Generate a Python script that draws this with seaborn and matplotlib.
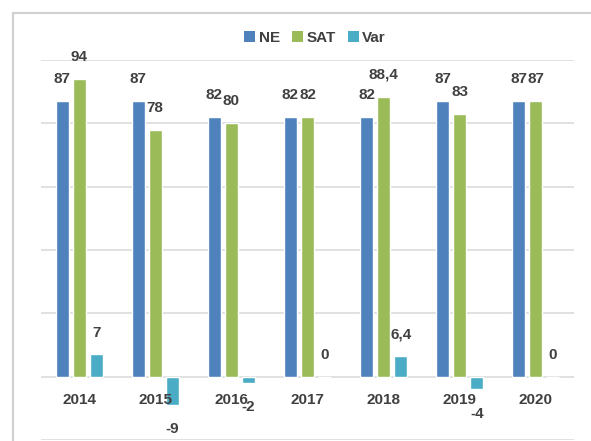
import matplotlib
matplotlib.use("Agg")
import matplotlib.pyplot as plt
from matplotlib.patches import Rectangle
import seaborn as sns
import pandas as pd

years = ["2014", "2015", "2016", "2017", "2018", "2019", "2020"]
ne = [87, 87, 82, 82, 82, 87, 87]
sat = [94, 78, 80, 82, 88.4, 83, 87]
var = [7, -9, -2, 0, 6.4, -4, 0]
series = ["NE", "SAT", "Var"]
colors = ["#4F81BD", "#9BBB59", "#4BACC6"]

sns.set_theme(style="white")
plt.rcParams["font.family"] = ["Liberation Sans", "DejaVu Sans"]
fsize = 11
text_color = "#404040"

df = pd.DataFrame({
    "year": years * 3,
    "value": ne + sat + var,
    "series": ["NE"] * 7 + ["SAT"] * 7 + ["Var"] * 7,
})

fig = plt.figure(figsize=(5.91, 4.41), dpi=100)
ax = fig.add_axes([41 / 591, 1 / 441, 533 / 591, 380 / 441])

sns.barplot(data=df, x="year", y="value", hue="series", order=years,
            hue_order=series, palette=colors, width=0.67, gap=0.24,
            saturation=1, legend=False, ax=ax)

ax.set_ylim(-20, 100)
ax.set_xlim(-0.5, len(years) - 0.5)
ax.set_yticks(range(-20, 101, 20))
ax.set_yticklabels([])
ax.tick_params(axis="y", length=0)
ax.grid(axis="y", color="#D9D9D9", linewidth=1.1)
ax.set_axisbelow(True)
for s in ax.spines.values():
    s.set_visible(False)
ax.set_xlabel("")
ax.set_ylabel("")

# category labels sit just under the zero line
ax.set_xticks(range(len(years)))
ax.set_xticklabels([])
ax.tick_params(axis="x", length=0)
for i, y in enumerate(years):
    ax.annotate(y, (i, 0), xytext=(0, -16.5), textcoords="offset points",
                ha="center", va="center", fontsize=fsize, fontweight="bold",
                color=text_color)


def fmt(v):
    return f"{v:g}".replace(".", ",")


for cont, vals in zip(ax.containers, [ne, sat, var]):
    for bar, v in zip(cont, vals):
        cx = bar.get_x() + bar.get_width() / 2
        off = 15.8 if v >= 0 else -17.5
        ax.annotate(fmt(v), (cx, v), xytext=(0, off), textcoords="offset points",
                    ha="center", va="center", fontsize=fsize, fontweight="bold",
                    color=text_color)

handles = [Rectangle((0, 0), 1, 1, facecolor=c, edgecolor="none") for c in colors]
leg = fig.legend(handles, series, loc="center", bbox_to_anchor=(315 / 591, 1 - 38 / 441),
                 ncol=3, frameon=False, handlelength=0.7, handleheight=0.7,
                 handletextpad=0.25, columnspacing=0.8,
                 prop={"size": fsize, "weight": "bold"})
for t in leg.get_texts():
    t.set_color(text_color)

# chart area border
fig.patches.append(Rectangle((12.5 / 591, -0.1), 2.0, 1 - 12.5 / 441 + 0.1,
                             transform=fig.transFigure, fill=False,
                             edgecolor="#D0D0D0", linewidth=1.5))

fig.savefig("out.png", dpi=100)
